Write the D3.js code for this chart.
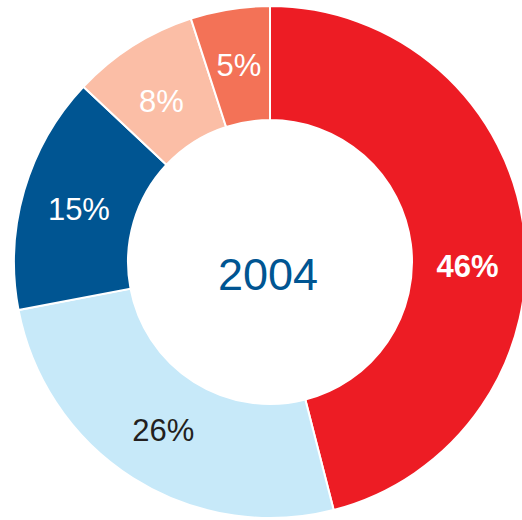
<!DOCTYPE html>
<html>
<head>
<meta charset="utf-8">
<script src="https://cdn.jsdelivr.net/npm/d3@7"></script>
<style>
  body { margin: 0; background: #fff; }
  svg { display: block; }
  text { font-family: "Liberation Sans", Arial, sans-serif; }
</style>
</head>
<body>
<div id="vis"></div>
<script>
var categories = ["A", "B", "C", "D", "E"];
var values = [46, 26, 15, 8, 5];
var labels = ["46%", "26%", "15%", "8%", "5%"];
var colors = ["#ED1C24", "#C7E9F9", "#005592", "#FBBEA6", "#F37257"];
var labelColors = ["#fff", "#231F20", "#fff", "#fff", "#fff"];
var yearLabel = "2004";

var width = 522, height = 520;
var cx = 270, cy = 262,
    outerR = 256, innerR = 142;

var svg = d3.select("#vis")
    .append("svg")
    .attr("width", width)
    .attr("height", height);

var g = svg.append("g")
    .attr("transform", "translate(" + cx + "," + cy + ")");

var pie = d3.pie()
    .sort(null)
    .value(function(d) { return d; });

var arc = d3.arc()
    .innerRadius(innerR)
    .outerRadius(outerR);

var arcs = pie(values);

g.selectAll(".slice")
    .data(arcs)
    .enter()
    .append("path")
    .attr("class", "slice")
    .attr("d", arc)
    .style("fill", function(d, i) { return colors[i]; })
    .style("stroke", "#fff")
    .style("stroke-width", 2);

g.selectAll(".lbl")
    .data(arcs)
    .enter()
    .append("text")
    .attr("class", "lbl")
    .attr("transform", function(d, i) {
      var c = arc.centroid(d);
      // hand nudges, as in the original
      if (i == 0) c[1] = 4;
      if (i == 3) { c[0] -= 2; c[1] += 7; }
      if (i == 2) c[1] += 3;
      return "translate(" + c[0] + "," + c[1] + ")";
    })
    .attr("dy", "0.35em")
    .attr("text-anchor", "middle")
    .style("font-size", "31px")
    .style("font-weight", function(d, i) { return i == 0 ? "bold" : "normal"; })
    .style("fill", function(d, i) { return labelColors[i]; })
    .text(function(d, i) { return labels[i]; });

g.append("text")
    .attr("x", -2)
    .attr("y", 28)
    .attr("text-anchor", "middle")
    .style("font-size", "45px")
    .style("fill", "#005592")
    .text(yearLabel);
</script>
</body>
</html>
